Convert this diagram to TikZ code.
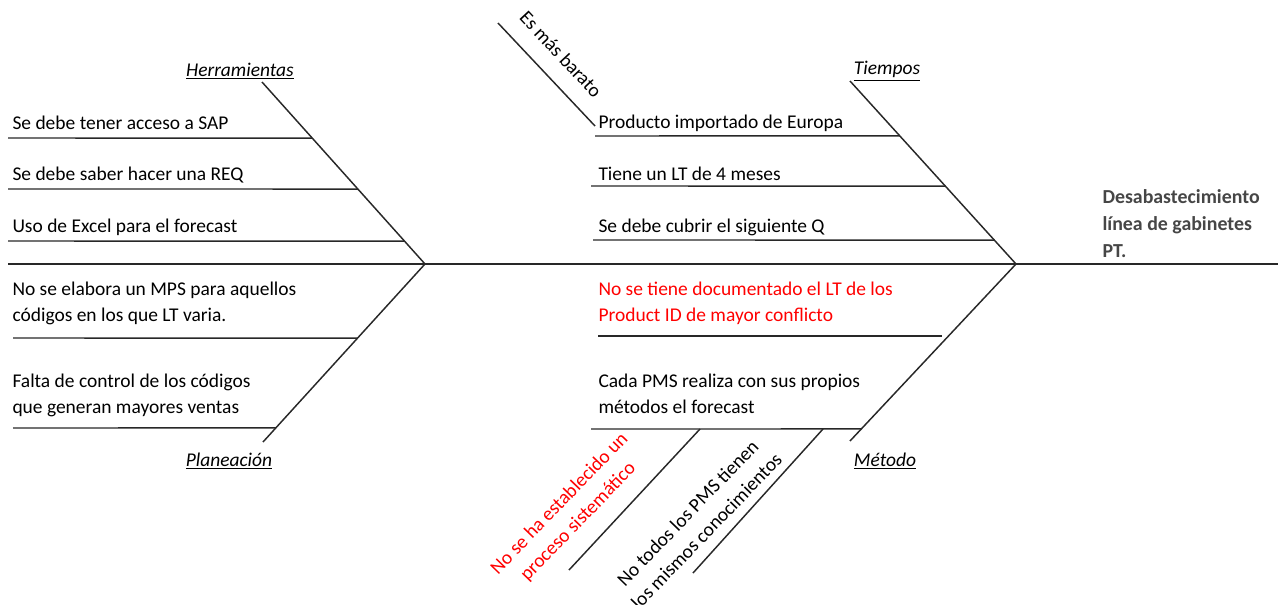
\documentclass[tikz,border=0pt]{standalone}
\usepackage{fontspec}
\setmainfont{Carlito}
\usetikzlibrary{positioning,calc}

\definecolor{titlegray}{RGB}{70,70,70}
\definecolor{causered}{RGB}{255,0,0}
\definecolor{boneline}{RGB}{40,40,40}

\tikzset{every picture/.style={line width=0.75pt}}
\tikzset{
  bone/.style={draw=boneline, line width=1.1pt},
  cause/.style={anchor=base west, inner sep=0pt, align=left, font=\fontsize{14.6}{19.5}\selectfont},
  category/.style={inner sep=0pt, font=\fontsize{14.6}{19.5}\selectfont\itshape},
  effect/.style={anchor=base west, inner sep=0pt, align=left, text=titlegray, font=\fontsize{14.9}{20.2}\selectfont\bfseries},
  slanted/.style={inner sep=0pt, align=center, font=\fontsize{14.6}{19.5}\selectfont}
}

\begin{document}
\begin{tikzpicture}[x=0.75pt,y=0.75pt,yscale=-1,xscale=1]
    \useasboundingbox (0,0) rectangle (1278,604);
    % spine and heads
    \coordinate (spL) at (8,264);
    \coordinate (spR) at (1278,264);
    \coordinate (hL) at (425,264);
    \coordinate (hR) at (1016,264);
    \coordinate (herrT) at (262,82);
    \coordinate (planB) at (263,442);
    \coordinate (tiemT) at (850,81);
    \coordinate (metB) at (850,441);
    \draw [bone] (spL) -- (spR);
    \draw [bone] (herrT) -- (hL) -- (planB);
    \draw [bone] (tiemT) -- (hR) -- (metB);

    % Herramientas
    \coordinate (sapS) at (8,138);
    \coordinate (sapE) at ($(herrT)!0.308!(hL)$);
    \coordinate (reqS) at (8,189);
    \coordinate (reqE) at ($(herrT)!0.588!(hL)$);
    \coordinate (xlsS) at (8,241);
    \coordinate (xlsE) at ($(herrT)!0.874!(hL)$);
    \draw [bone] (sapS) -- (sapE);
    \draw [bone] (reqS) -- (reqE);
    \draw [bone] (xlsS) -- (xlsE);
    \node [cause] (sap) at (12,129) {Se debe tener acceso a SAP};
    \node [cause] (req) at (12,180) {Se debe saber hacer una REQ};
    \node [cause] (xls) at (12,232) {Uso de Excel para el forecast};
    \node [category] (herr) at (240,71) {\underline{Herramientas}};

    % Planeacion
    \coordinate (mpsS) at (13,338);
    \coordinate (mpsE) at ($(hL)!0.416!(planB)$);
    \coordinate (ctlS) at (13,428);
    \coordinate (ctlE) at ($(hL)!0.921!(planB)$);
    \draw [bone] (mpsS) -- (mpsE);
    \draw [bone] (ctlS) -- (ctlE);
    \node [cause] (mps) at (12,321) {No se elabora un MPS para aquellos\\c\'odigos en los que LT varia.};
    \node [cause] (ctl) at (12,413) {Falta de control de los c\'odigos\\que generan mayores ventas};
    \node [category] (plan) at (229,461) {\underline{Planeaci\'on}};

    % Tiempos
    \coordinate (impS) at (595,136);
    \coordinate (impE) at ($(tiemT)!0.30!(hR)$);
    \coordinate (ltS) at (591,186);
    \coordinate (ltE) at ($(tiemT)!0.574!(hR)$);
    \coordinate (qS) at (593,240);
    \coordinate (qE) at ($(tiemT)!0.869!(hR)$);
    \draw [bone] (impS) -- (impE);
    \draw [bone] (ltS) -- (ltE);
    \draw [bone] (qS) -- (qE);
    \coordinate (barT) at (498,23);
    \coordinate (barB) at (595,126);
    \draw [bone] (barT) -- (barB);
    \node [cause] (imp) at (598,128) {Producto importado de Europa};
    \node [cause] (lt) at (598,180) {Tiene un LT de 4 meses};
    \node [cause] (q) at (598,232) {Se debe cubrir el siguiente Q};
    \node [slanted, rotate=-47] (bar) at (561,54) {Es m\'as barato};
    \node [category] (tiem) at (887,71) {\underline{Tiempos}};

    % Metodo
    \coordinate (docS) at (598,336);
    \coordinate (docE) at (942,336);
    \coordinate (pmsS) at (591,429);
    \coordinate (pmsE) at ($(hR)!0.932!(metB)$);
    \draw [bone] (docS) -- (docE);
    \draw [bone] (pmsS) -- (pmsE);
    \coordinate (sisT) at (700,429);
    \coordinate (sisB) at (569,570);
    \coordinate (conT) at (823,429);
    \coordinate (conB) at (693,573);
    \draw [bone] (sisT) -- (sisB);
    \draw [bone] (conT) -- (conB);
    \node [cause, text=causered] (doc) at (598,321) {No se tiene documentado el LT de los\\Product ID de mayor conflicto};
    \node [cause] (pms) at (598,413) {Cada PMS realiza con sus propios\\m\'etodos el forecast};
    \node [slanted, rotate=46, text=causered] (sis) at (569,513) {No se ha establecido un\\proceso sistem\'atico};
    \node [slanted, rotate=46] (con) at (697,522) {No todos los PMS tienen\\los mismos conocimientos};
    \node [category] (met) at (885,461) {\underline{M\'etodo}};

    % effect
    \node [effect] (efecto) at (1102,257) {Desabastecimiento\\l\'inea de gabinetes\\PT.};
\end{tikzpicture}
\end{document}
